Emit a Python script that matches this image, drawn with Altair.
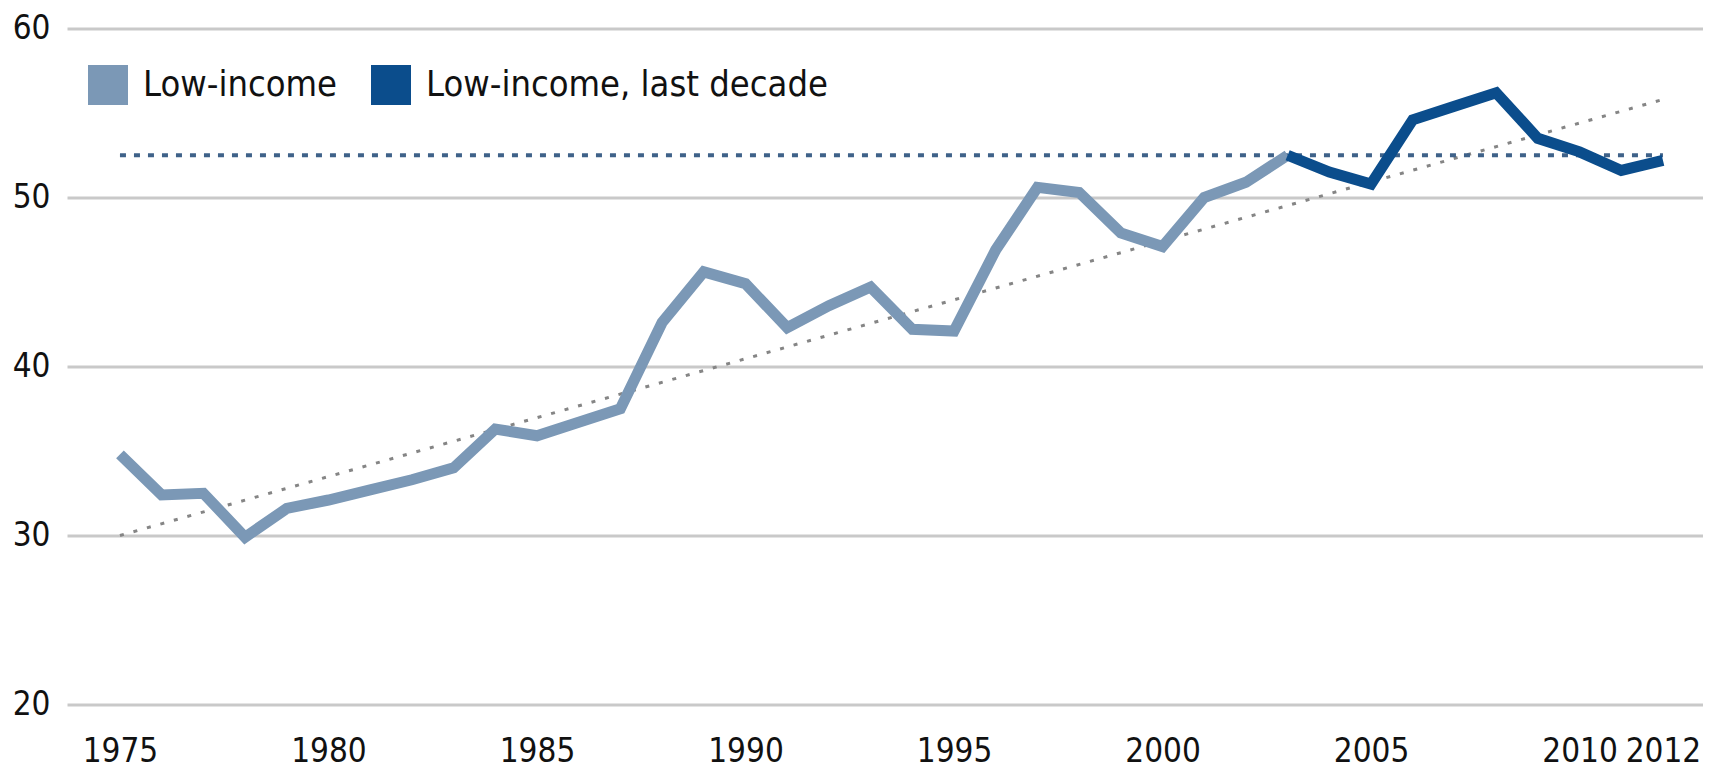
import altair as alt
import pandas as pd

# ---- data ----
years_low = [1975, 1976, 1977, 1978, 1979, 1980, 1981, 1982, 1983, 1984,
             1985, 1986, 1987, 1988, 1989, 1990, 1991, 1992, 1993, 1994,
             1995, 1996, 1997, 1998, 1999, 2000, 2001, 2002, 2003]
low_income = [34.8, 32.4, 32.5, 29.9, 31.6, 32.1, 32.7, 33.3, 34.0, 36.3,
              35.9, 36.7, 37.5, 42.6, 45.6, 44.9, 42.3, 43.6, 44.7, 42.2,
              42.1, 46.9, 50.6, 50.3, 47.9, 47.1, 50.0, 50.9, 52.5]

years_decade = [2003, 2004, 2005, 2006, 2007, 2008, 2009, 2010, 2011, 2012]
last_decade = [52.5, 51.5, 50.8, 54.6, 55.4, 56.2, 53.5, 52.7, 51.6, 52.2]

trend_years = [1975, 2012]
trend_values = [30.0, 55.8]

avg_years = [1975, 2012]
avg_values = [52.5, 52.5]

series_names = ["Low-income", "Low-income, last decade"]
series_colors = ["#7b98b6", "#0b4d8c"]

x_ticks = [1975, 1980, 1985, 1990, 1995, 2000, 2005, 2010, 2012]
y_ticks = [20, 30, 40, 50, 60]

FONT = "DejaVu Sans Condensed, Roboto, sans-serif"

lines_df = pd.concat([
    pd.DataFrame({"year": years_low, "value": low_income, "series": series_names[0]}),
    pd.DataFrame({"year": years_decade, "value": last_decade, "series": series_names[1]}),
], ignore_index=True)
trend_df = pd.DataFrame({"year": trend_years, "value": trend_values})
avg_df = pd.DataFrame({"year": avg_years, "value": avg_values})

x_scale = alt.Scale(domain=[1973.73, 2012.96], nice=False, zero=False)
y_scale = alt.Scale(domain=[20, 60], nice=False, zero=False)

x_axis = alt.Axis(values=x_ticks, format="d", title=None, grid=False, ticks=False,
                  domain=False, labelFontSize=33, labelFont=FONT, labelColor="#111111",
                  labelPadding=31, labelOverlap=False, labelFlush=False, labelBound=False)
y_axis = alt.Axis(values=y_ticks, title=None, grid=True, gridColor="#c9c9c9", gridWidth=3,
                  ticks=False, domain=False, labelFontSize=33, labelFont=FONT,
                  labelColor="#111111", labelPadding=17)

X = alt.X("year:Q", scale=x_scale, axis=x_axis)
Y = alt.Y("value:Q", scale=y_scale, axis=y_axis)

trend = alt.Chart(trend_df).mark_line(
    color="#858585", strokeWidth=3, strokeDash=[4, 10]
).encode(x=X, y=Y)

avg = alt.Chart(avg_df).mark_line(
    color="#3f6289", strokeWidth=4, strokeDash=[6, 8]
).encode(x=X, y=Y)

main = alt.Chart(lines_df).mark_line(strokeWidth=11).encode(
    x=X,
    y=Y,
    color=alt.Color("series:N", scale=alt.Scale(domain=series_names, range=series_colors),
                    legend=None),
    order="year:Q",
)

legend = alt.Legend(
    title=None, orient="none", legendX=21, legendY=36.5, direction="horizontal",
    symbolType="square", symbolSize=1600, symbolStrokeWidth=0, symbolOpacity=1,
    labelFontSize=36, labelFont=FONT, labelColor="#111111", labelOffset=15,
    labelLimit=0, columnPadding=33, padding=0,
)

# invisible layer that only carries the filled-square legend
legend_layer = alt.Chart(lines_df).mark_square(filled=True, opacity=0, size=1).encode(
    x=X,
    y=Y,
    fill=alt.Fill("series:N", scale=alt.Scale(domain=series_names, range=series_colors),
                  legend=legend),
)

chart = alt.layer(trend, avg, legend_layer, main).properties(
    width=1636, height=676,
    autosize=alt.AutoSizeParams(type="none"),
    padding={"left": 59, "top": 20.5, "right": 0, "bottom": 66.5},
    background="white",
).configure_view(stroke=None)

chart.save("out.html", embed_options={"renderer": "svg", "actions": False})
